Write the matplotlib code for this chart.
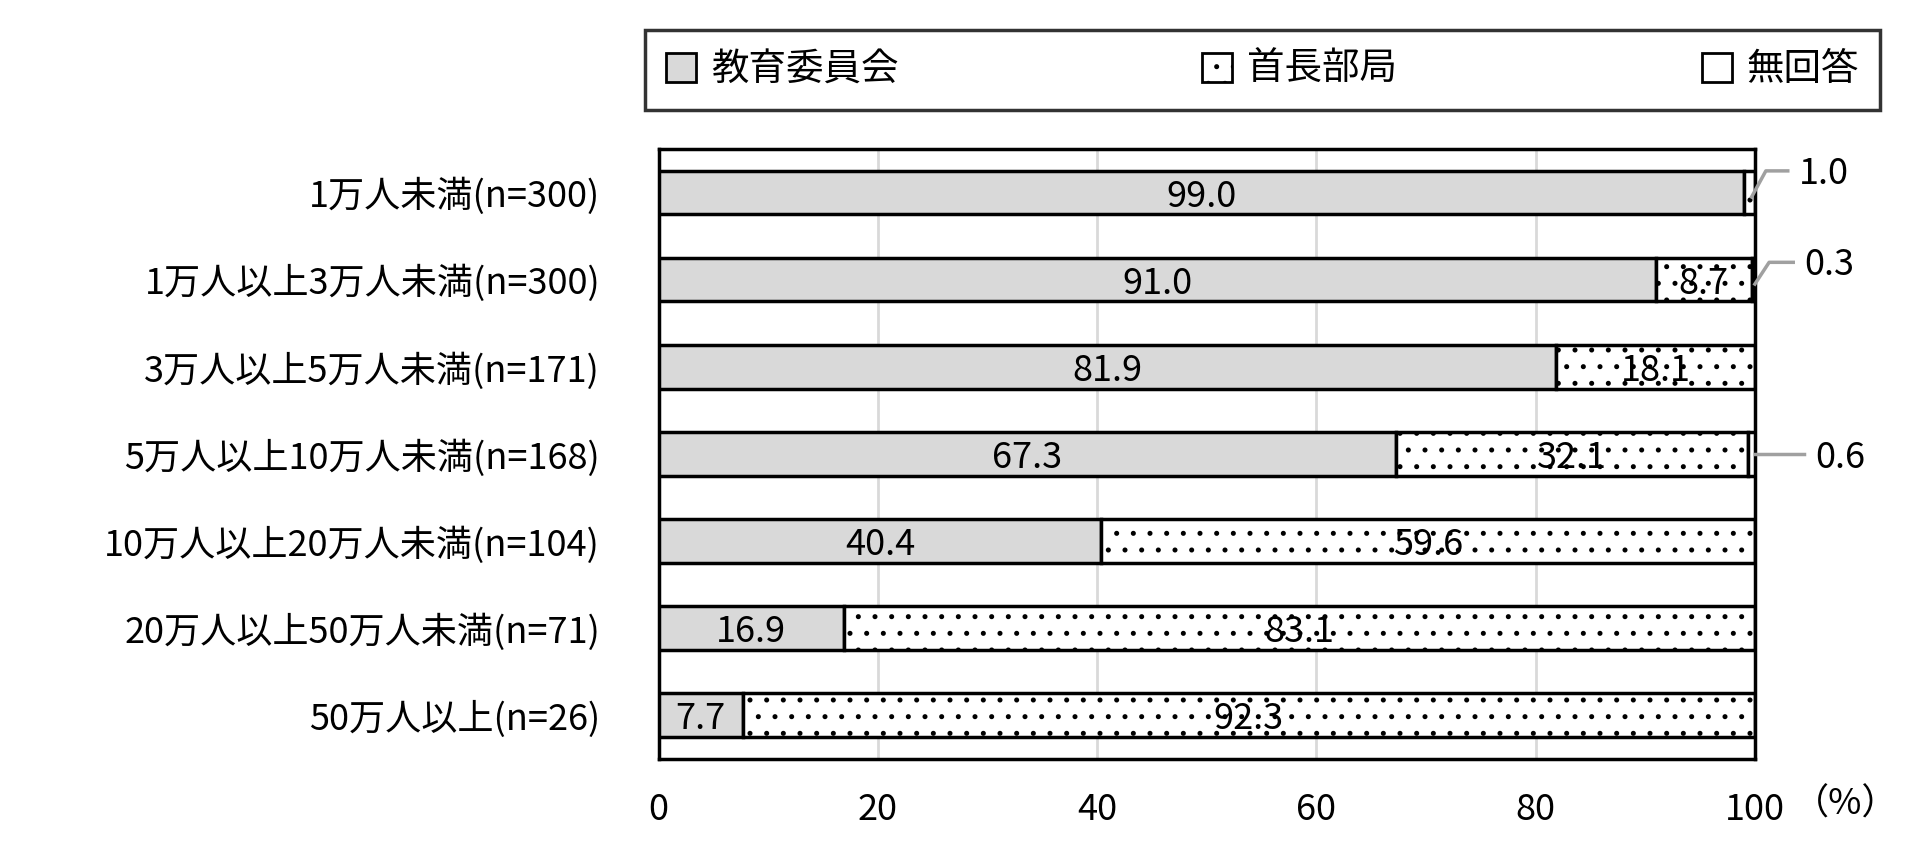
import matplotlib
matplotlib.use("Agg")
import matplotlib.pyplot as plt
from matplotlib.patches import Patch

plt.rcParams['font.family'] = ['Noto Sans CJK JP', 'DejaVu Sans']
plt.rcParams['hatch.color'] = '#909090'
plt.rcParams['hatch.linewidth'] = 1.2

categories = ["1万人未満(n=300)", "1万人以上3万人未満(n=300)", "3万人以上5万人未満(n=171)",
              "5万人以上10万人未満(n=168)", "10万人以上20万人未満(n=104)",
              "20万人以上50万人未満(n=71)", "50万人以上(n=26)"]
kyoiku = [99.0, 91.0, 81.9, 67.3, 40.4, 16.9, 7.7]
shucho = [1.0, 8.7, 18.1, 32.1, 59.6, 83.1, 92.3]
mukaito = [0.0, 0.3, 0.0, 0.6, 0.0, 0.0, 0.0]
series_names = ["教育委員会", "首長部局", "無回答"]

fig = plt.figure(figsize=(19.2, 8.67), dpi=100)
ax = fig.add_axes([0.343, 0.125, 0.571, 0.703])

y = list(range(len(categories)))
h = 0.5
ax.barh(y, kyoiku, height=h, color="#d9d9d9", edgecolor="black", linewidth=2.5, zorder=3)
ax.barh(y, shucho, left=kyoiku, height=h, color="white", edgecolor="black",
        linewidth=2.5, hatch=".", zorder=3)
left2 = [a + b for a, b in zip(kyoiku, shucho)]
ax.barh(y, mukaito, left=left2, height=h, color="white", edgecolor="black", linewidth=2.5, zorder=3)

fs = 26
for i in y:
    ax.text(kyoiku[i] / 2, i + 0.05, f"{kyoiku[i]:.1f}", ha="center", va="center", fontsize=fs, zorder=4)
    if shucho[i] >= 5:
        ax.text(kyoiku[i] + shucho[i] / 2, i + 0.05, f"{shucho[i]:.1f}", ha="center", va="center",
                fontsize=fs, zorder=4)

# small values with leader lines
ax.plot([99.7, 101, 103], [0.05, -0.25, -0.25], color="#a0a0a0", lw=2.5, clip_on=False, zorder=5)
ax.text(104, -0.22, f"{shucho[0]:.1f}", va="center", fontsize=fs)
ax.plot([100, 101.3, 103.5], [1.05, 0.8, 0.8], color="#a0a0a0", lw=2.5, clip_on=False, zorder=5)
ax.text(104.5, 0.83, f"{mukaito[1]:.1f}", va="center", fontsize=fs)
ax.plot([100, 104.5], [3.0, 3.0], color="#a0a0a0", lw=2.5, clip_on=False, zorder=5)
ax.text(105.5, 3.05, f"{mukaito[3]:.1f}", va="center", fontsize=fs)

ax.set_yticks(y)
ax.set_yticklabels(categories, fontsize=fs)
ax.set_ylim(len(categories) - 0.5, -0.5)
ax.set_xlim(0, 100)
ax.set_xticks([0, 20, 40, 60, 80, 100])
ax.tick_params(axis="x", labelsize=fs, length=0, pad=24)
ax.tick_params(axis="y", length=0, pad=42)
ax.grid(axis="x", color="#d9d9d9", lw=2, zorder=0)
for s in ax.spines.values():
    s.set_linewidth(2.5)
    s.set_color("black")
ax.text(1.035, -0.075, "（%）", transform=ax.transAxes, fontsize=fs, va="center", ha="left")

handles = [Patch(fc="#d9d9d9", ec="black", lw=2),
           Patch(fc="white", ec="black", lw=2, hatch="."),
           Patch(fc="white", ec="black", lw=2)]
leg = fig.legend(handles, series_names, loc="center", bbox_to_anchor=(0.336, 0.87, 0.643, 0.099),
                 mode="expand", ncol=3, fontsize=fs + 1, frameon=True, fancybox=False,
                 edgecolor="black", handlelength=0.8, handleheight=0.8, handletextpad=0.4,
                 borderpad=0.55, borderaxespad=0)
leg.get_frame().set_linewidth(2.5)
for t in leg.get_texts():
    t.set_ha("left")

fig.savefig("out.png", dpi=100, facecolor="white")
